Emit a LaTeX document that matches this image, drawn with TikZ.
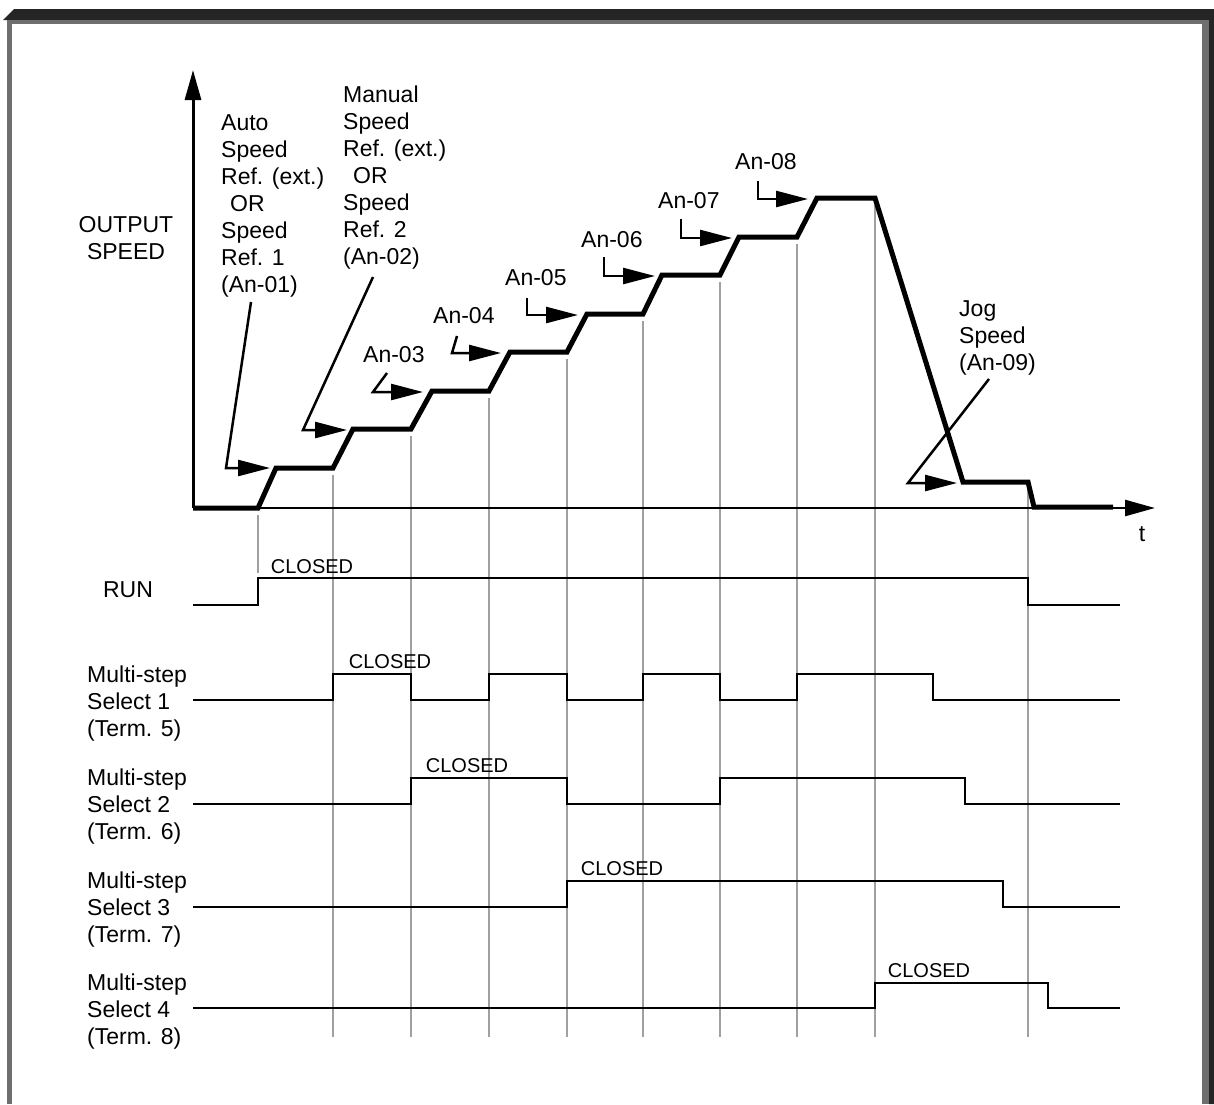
\documentclass[tikz,border=0pt]{standalone}
\usepackage{fontspec}
\setmainfont{Liberation Sans}
\usetikzlibrary{arrows.meta, positioning}
\definecolor{frameDark}{HTML}{252525}
\definecolor{frameGray}{HTML}{6E6E6E}
\definecolor{gridGray}{HTML}{A0A0A0}
\tikzset{
  lbl/.style       = {font=\fontsize{23}{27}\selectfont, inner sep=0pt, align=left},
  cls/.style       = {font=\fontsize{20}{24}\selectfont, inner sep=0pt, anchor=base},
  axis/.style      = {line width=3pt, -{Triangle[length=30pt, width=16pt]}},
  prof/.style      = {line width=5pt, line join=miter},
  sig/.style       = {line width=2.8pt},
  grid line/.style = {gridGray, line width=2pt},
  lead/.style      = {line width=2.5pt, -{Triangle[length=32pt, width=16pt]}},
}

\begin{document}
\begin{tikzpicture}[x=1pt, y=-1pt]
    \useasboundingbox (0,0) rectangle (1214,1104);
    % frame
    \fill[frameDark] (3,20) -- (14,9) -- (1214,9) -- (1214,1104) -- (1209,1104) -- (1209,20) -- cycle;
    \fill[frameGray] (7,20) rectangle (1209,24);
    \fill[frameGray] (7,20) rectangle (12,1104);
    \fill[frameGray] (1202,20) rectangle (1209,1104);

    % time marks
    \draw[grid line] (258,515) -- (258,573);
    \draw[grid line] (333,475) -- (333,1037);
    \draw[grid line] (411,436) -- (411,1037);
    \draw[grid line] (489,398) -- (489,1037);
    \draw[grid line] (567,359) -- (567,1037);
    \draw[grid line] (643,321) -- (643,1037);
    \draw[grid line] (720,282) -- (720,1037);
    \draw[grid line] (797,244) -- (797,1037);
    \draw[grid line] (875,205) -- (875,1037);
    \draw[grid line] (1028,490) -- (1028,1037);

    % axes
    \coordinate (orig) at (193,508);
    \coordinate (ytip) at (193,70);
    \coordinate (xtip) at (1155,508);
    \draw[axis] (orig) -- (ytip);
    \draw[axis, line width=2.5pt] (orig) -- (xtip);
    \node[lbl, anchor=north, align=center] (yLbl) at (126,216) {OUTPUT\\SPEED};
    \node[lbl, anchor=base] (tLbl) at (1142,541) {t};

    % speed profile
    \draw[prof] (193,508) -- (258,508) -- (276,468) -- (333,468) -- (353,429) -- (411,429)
      -- (432,391) -- (489,391) -- (510,352) -- (567,352) -- (587,314) -- (643,314)
      -- (662,275) -- (720,275) -- (739,237) -- (797,237) -- (817,198) -- (875,198)
      -- (963,482) -- (1028,482) -- (1034,507) -- (1113,507);

    % references
    \node[lbl, anchor=north west] (refAuto) at (221,114)
      {Auto\\Speed\\Ref. (ext.)\\\hspace*{9pt}OR\\Speed\\Ref. 1\\(An-01)};
    \node[lbl, anchor=north west] (refMan) at (343,86)
      {Manual\\Speed\\Ref. (ext.)\\\hspace*{10pt}OR\\Speed\\Ref. 2\\(An-02)};
    \node[lbl, anchor=base west] (ref3) at (363,362) {An-03};
    \node[lbl, anchor=base west] (ref4) at (433,323) {An-04};
    \node[lbl, anchor=base west] (ref5) at (505,285) {An-05};
    \node[lbl, anchor=base west] (ref6) at (581,247) {An-06};
    \node[lbl, anchor=base west] (ref7) at (658,208) {An-07};
    \node[lbl, anchor=base west] (ref8) at (735,169) {An-08};
    \node[lbl, anchor=north west] (refJog) at (959,300) {Jog\\Speed\\(An-09)};

    \coordinate (s1) at (251,302);  \coordinate (b1) at (226,468);  \coordinate (e1) at (270,468);
    \coordinate (s2) at (373,277);  \coordinate (b2) at (303,430);  \coordinate (e2) at (347,430);
    \coordinate (s3) at (387,373);  \coordinate (b3) at (373,392);  \coordinate (e3) at (423,392);
    \coordinate (s4) at (457,336);  \coordinate (b4) at (452,353);  \coordinate (e4) at (501,353);
    \coordinate (s5) at (527,298);  \coordinate (b5) at (527,315);  \coordinate (e5) at (578,315);
    \coordinate (s6) at (604,257);  \coordinate (b6) at (604,276);  \coordinate (e6) at (655,276);
    \coordinate (s7) at (681,219);  \coordinate (b7) at (681,238);  \coordinate (e7) at (732,238);
    \coordinate (s8) at (758,181);  \coordinate (b8) at (758,199);  \coordinate (e8) at (808,199);
    \coordinate (s9) at (989,379);  \coordinate (b9) at (908,483);  \coordinate (e9) at (957,483);
    \draw[lead] (s1) -- (b1) -- (e1);
    \draw[lead] (s2) -- (b2) -- (e2);
    \draw[lead] (s3) -- (b3) -- (e3);
    \draw[lead] (s4) -- (b4) -- (e4);
    \draw[lead] (s5) -- (b5) -- (e5);
    \draw[lead] (s6) -- (b6) -- (e6);
    \draw[lead] (s7) -- (b7) -- (e7);
    \draw[lead] (s8) -- (b8) -- (e8);
    \draw[lead] (s9) -- (b9) -- (e9);

    % inputs
    \node[lbl, anchor=base] (run) at (128,597) {RUN};
    \node[lbl, anchor=north west] (ms1) at (87,666) {Multi-step\\Select 1\\(Term. 5)};
    \node[lbl, anchor=north west] (ms2) at (87,769) {Multi-step\\Select 2\\(Term. 6)};
    \node[lbl, anchor=north west] (ms3) at (87,872) {Multi-step\\Select 3\\(Term. 7)};
    \node[lbl, anchor=north west] (ms4) at (87,974) {Multi-step\\Select 4\\(Term. 8)};

    \draw[sig] (193,605) -| (258,578) -| (1028,605) -- (1120,605);
    \draw[sig] (193,700) -| (333,674) -| (411,700) -| (489,674) -| (567,700) -| (643,674)
      -| (720,700) -| (797,674) -| (933,700) -- (1120,700);
    \draw[sig] (193,804) -| (411,778) -| (567,804) -| (720,778) -| (965,804) -- (1120,804);
    \draw[sig] (193,907) -| (567,881) -| (1003,907) -- (1120,907);
    \draw[sig] (193,1008) -| (875,983) -| (1048,1008) -- (1120,1008);

    \node[cls] (cRun) at (312,573) {CLOSED};
    \node[cls] (c1) at (390,668) {CLOSED};
    \node[cls] (c2) at (467,772) {CLOSED};
    \node[cls] (c3) at (622,875) {CLOSED};
    \node[cls] (c4) at (929,977) {CLOSED};
  \end{tikzpicture}
\end{document}
